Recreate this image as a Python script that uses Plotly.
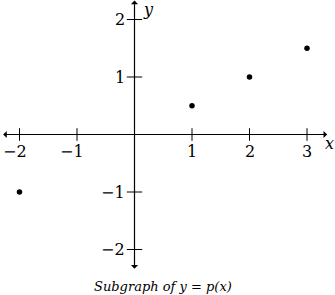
import plotly.graph_objects as go

# Data
x_vals = [-2, 1, 2, 3]
y_vals = [-1, 0.5, 1, 1.5]
x_ticks = [-2, -1, 1, 2, 3]
x_tick_labels = ["\u22122", "\u22121", "1", "2", "3"]
y_ticks = [-2, -1, 1, 2]
y_tick_labels = ["\u22122", "\u22121", "1", "2"]
caption = "Subgraph of y = p(x)"

W, H = 335, 295
ox, oy, unit = 134.5, 134.5, 57.5
x_range = [-ox / unit, (W - ox) / unit]
y_range = [-(H - oy) / unit, oy / unit]

FONT = "DejaVu Serif"

fig = go.Figure()

# tick marks
fig.add_trace(go.Scatter(x=x_ticks, y=[0] * len(x_ticks), mode="markers",
                         marker=dict(symbol="line-ns", size=9, line=dict(width=1, color="black")),
                         hoverinfo="skip"))
fig.add_trace(go.Scatter(x=[0] * len(y_ticks), y=y_ticks, mode="markers",
                         marker=dict(symbol="line-ew", size=11, line=dict(width=1, color="black")),
                         hoverinfo="skip"))
# data points
fig.add_trace(go.Scatter(x=x_vals, y=y_vals, mode="markers",
                         marker=dict(size=5.5, color="black")))

ann = []
# axes with arrows
ann.append(dict(x=3.35, y=0, ax=-2.31, ay=0, xref="x", yref="y", axref="x", ayref="y",
                text="", showarrow=True, arrowside="end+start", arrowhead=1,
                arrowsize=1.0, arrowwidth=1.2, arrowcolor="black"))
ann.append(dict(x=0, y=2.33, ax=0, ay=-2.36, xref="x", yref="y", axref="x", ayref="y",
                text="", showarrow=True, arrowside="end+start", arrowhead=1,
                arrowsize=1.0, arrowwidth=1.2, arrowcolor="black"))

for v, t in zip(x_ticks, x_tick_labels):
    ann.append(dict(x=v, y=0, xref="x", yref="y", text=t, showarrow=False,
                    xanchor="center", yanchor="middle", yshift=-17,
                    xshift=-5 if v < 0 else 0,
                    font=dict(family=FONT, size=16, color="black")))
for v, t in zip(y_ticks, y_tick_labels):
    ann.append(dict(x=0, y=v, xref="x", yref="y", text=t, showarrow=False,
                    xanchor="right", yanchor="middle", xshift=-8,
                    font=dict(family=FONT, size=16, color="black")))

ann.append(dict(x=329 / W, y=1 - 143 / H, xref="paper", yref="paper", text="<i>x</i>",
                showarrow=False, xanchor="center", yanchor="middle",
                font=dict(family=FONT, size=16, color="black")))
ann.append(dict(x=148 / W, y=1, xref="paper", yref="paper", text="<i>y</i>",
                showarrow=False, xanchor="center", yanchor="top", yshift=2,
                font=dict(family=FONT, size=16, color="black")))
ann.append(dict(x=162.5 / W, y=1 - 286 / H, xref="paper", yref="paper",
                text="<i>" + caption + "</i>", showarrow=False,
                xanchor="center", yanchor="middle",
                font=dict(family=FONT, size=13, color="black")))

fig.update_layout(
    width=W, height=H, margin=dict(l=0, r=0, t=0, b=0),
    paper_bgcolor="white", plot_bgcolor="white", showlegend=False,
    font=dict(family=FONT),
    xaxis=dict(visible=False, range=x_range, fixedrange=True),
    yaxis=dict(visible=False, range=y_range, fixedrange=True),
    annotations=ann,
)

fig.write_html("out.html", config={"displayModeBar": False})
